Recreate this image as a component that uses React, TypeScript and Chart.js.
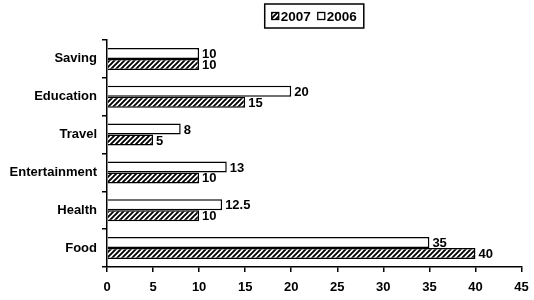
import React, { useEffect, useRef } from "react";
import { Chart, registerables } from "chart.js";

Chart.register(...registerables);

const categories = ["Saving", "Education", "Travel", "Entertainment", "Health", "Food"];
const values2006 = [10, 20, 8, 13, 12.5, 35];
const values2007 = [10, 15, 5, 10, 10, 40];
const seriesNames = ["2006", "2007"];
const xMin = 0;
const xMax = 45;
const xStep = 5;

const FONT = '"Liberation Sans", Arial, sans-serif';

function makeHatch(): CanvasPattern | string {
  const s = 5;
  const c = document.createElement("canvas");
  c.width = s;
  c.height = s;
  const g = c.getContext("2d");
  if (!g) return "#000";
  g.fillStyle = "#fff";
  g.fillRect(0, 0, s, s);
  g.strokeStyle = "#000";
  g.lineWidth = 1.9;
  g.beginPath();
  g.moveTo(-1, s + 1);
  g.lineTo(s + 1, -1);
  g.moveTo(-1, 1);
  g.lineTo(1, -1);
  g.moveTo(s - 1, s + 1);
  g.lineTo(s + 1, s - 1);
  g.stroke();
  const p = g.createPattern(c, "repeat");
  return p || "#000";
}

export default function App() {
  const ref = useRef<HTMLCanvasElement | null>(null);

  useEffect(() => {
    if (!ref.current) return;
    const hatch = makeHatch();
    const fills = ["#ffffff", hatch];

    const valueLabels = {
      id: "valueLabels",
      afterDatasetsDraw(chart: any) {
        const ctx = chart.ctx;
        ctx.save();
        ctx.font = `bold 13px ${FONT}`;
        ctx.fillStyle = "#000";
        ctx.textAlign = "left";
        ctx.textBaseline = "middle";
        chart.data.datasets.forEach((ds: any, i: number) => {
          const meta = chart.getDatasetMeta(i);
          meta.data.forEach((bar: any, j: number) => {
            ctx.fillText(String(ds.data[j]), bar.x + 3, bar.y + 1);
          });
        });
        ctx.restore();
      },
    };

    const boxedLegend = {
      id: "boxedLegend",
      afterDraw(chart: any) {
        const ctx = chart.ctx;
        const area = chart.chartArea;
        ctx.save();
        ctx.font = `bold 13.5px ${FONT}`;
        const items = chart.data.datasets
          .map((ds: any, i: number) => ({ label: ds.label, fill: fills[i] }))
          .reverse();
        const sq = 7;
        const gap = 2;
        const spacing = 7;
        const pad = 7;
        let content = 0;
        items.forEach((it: any, k: number) => {
          content += sq + gap + ctx.measureText(it.label).width;
          if (k < items.length - 1) content += spacing;
        });
        const w = content + pad * 2;
        const h = 24;
        const cx = (area.left + area.right) / 2;
        const bx = cx - w / 2;
        const by = 4;
        ctx.lineWidth = 1.5;
        ctx.strokeStyle = "#000";
        ctx.strokeRect(bx, by, w, h);
        let x = bx + pad;
        const cy = by + h / 2;
        items.forEach((it: any) => {
          ctx.fillStyle = it.fill;
          ctx.fillRect(x, cy - sq / 2, sq, sq);
          ctx.lineWidth = 1.3;
          ctx.strokeRect(x, cy - sq / 2, sq, sq);
          x += sq + gap;
          ctx.fillStyle = "#000";
          ctx.textBaseline = "middle";
          ctx.textAlign = "left";
          ctx.fillText(it.label, x, cy + 1);
          x += ctx.measureText(it.label).width + spacing;
        });
        ctx.restore();
      },
    };

    const chart = new Chart(ref.current, {
      type: "bar",
      data: {
        labels: categories,
        datasets: [
          {
            label: seriesNames[0],
            data: values2006,
            backgroundColor: fills[0] as any,
            borderColor: "#000",
            borderWidth: 1.5,
            categoryPercentage: 0.58,
            barPercentage: 1,
          },
          {
            label: seriesNames[1],
            data: values2007,
            backgroundColor: fills[1] as any,
            borderColor: "#000",
            borderWidth: 1.5,
            categoryPercentage: 0.58,
            barPercentage: 1,
          },
        ],
      },
      options: {
        indexAxis: "y",
        animation: false,
        responsive: true,
        maintainAspectRatio: false,
        layout: { padding: { top: 40, right: 12.5, left: 0, bottom: 0 } },
        plugins: {
          legend: { display: false },
          tooltip: { enabled: false },
        },
        scales: {
          x: {
            min: xMin,
            max: xMax,
            ticks: {
              stepSize: xStep,
              color: "#000",
              padding: 8,
              font: { family: FONT, size: 13, weight: "bold" },
              maxRotation: 0,
            },
            grid: {
              display: true,
              drawOnChartArea: false,
              drawTicks: true,
              tickLength: 5,
              color: "#000",
              lineWidth: 1.5,
            },
            border: { display: true, color: "#000", width: 1.5 },
            afterFit(scale: any) {
              scale.height = 33;
              scale.paddingLeft = 0;
              scale.paddingRight = 0;
            },
          },
          y: {
            ticks: {
              color: "#000",
              padding: 5,
              font: { family: FONT, size: 13, weight: "bold" },
            },
            grid: {
              display: true,
              drawOnChartArea: false,
              drawTicks: true,
              tickLength: 5,
              color: "#000",
              lineWidth: 1.5,
            },
            border: { display: true, color: "#000", width: 1.5 },
            afterFit(scale: any) {
              scale.width = 107;
              scale.paddingTop = 0;
              scale.paddingBottom = 0;
            },
          },
        },
      },
      plugins: [valueLabels, boxedLegend],
    });
    return () => chart.destroy();
  }, []);

  return (
    <div style={{ position: "fixed", left: 0, top: 0, width: 534, height: 300, background: "#fff" }}>
      <canvas ref={ref} />
    </div>
  );
}
